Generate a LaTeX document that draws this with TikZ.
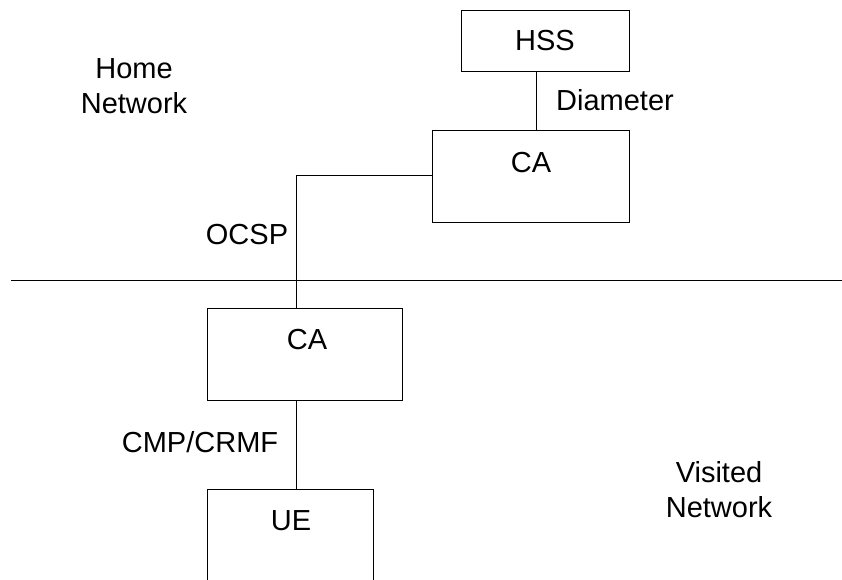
\documentclass[tikz,border=0pt]{standalone}
\usepackage{fontspec}
\setmainfont{Liberation Sans}
\begin{document}
\begin{tikzpicture}[x=1pt,y=-1pt,
  box/.style={draw,line width=0.9pt,rectangle,inner sep=0pt},
  txt/.style={font=\fontsize{29}{35}\selectfont,inner sep=0pt,align=center},
  conn/.style={draw,line width=0.9pt}]
\clip (0,0) rectangle (842,580);
\useasboundingbox (0,0) rectangle (842,580);
% boxes
\node[box,minimum width=168,minimum height=61] (hss) at (545,40.5) {};
\node[box,minimum width=197,minimum height=92] (ca1) at (530.5,176) {};
\node[box,minimum width=195,minimum height=92] (ca2) at (304.5,354) {};
\node[box,minimum width=166,minimum height=140] (ue) at (290,559) {};
% box texts
\node[txt] (thss) at (545,41) {HSS};
\node[txt] (tca1) at (531,163) {CA};
\node[txt] (tca2) at (307,340) {CA};
\node[txt] (tue) at (291,521) {UE};
% labels
\node[txt] (ldia) at (615,100) {Diameter};
\node[txt] (locsp) at (247,235) {OCSP};
\node[txt] (lcmp) at (200,442) {CMP/CRMF};
\node[txt,align=center] (lhome) at (134,86) {Home\\Network};
\node[txt,align=center] (lvis) at (719,490) {Visited\\Network};
% separator
\coordinate (sepL) at (11,280);
\coordinate (sepR) at (842,280);
\draw[conn] (sepL) -- (sepR);
% connectors
\draw[conn] (hss.south -| 536,0) -- (ca1.north -| 536,0);
\draw[conn] (ca1.west |- 0,175) -| (ca2.north -| 296,0);
\draw[conn] (ca2.south -| 296,0) -- (ue.north -| 296,0);
\end{tikzpicture}
\end{document}
